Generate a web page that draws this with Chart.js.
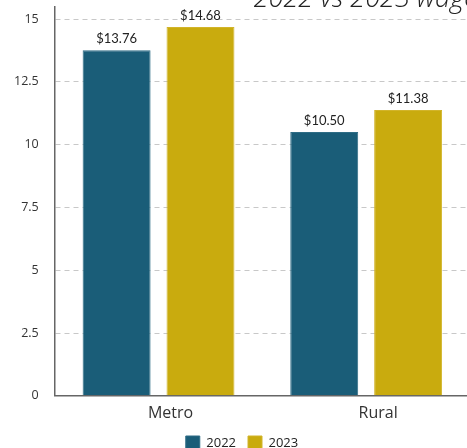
<!DOCTYPE html>
<html>
<head>
<meta charset="utf-8">
<script src="https://cdn.jsdelivr.net/npm/chart.js@4"></script>
<style>
  html, body { margin: 0; padding: 0; background: #fff; overflow: hidden; }
  #wrap { position: absolute; left: 0; top: -17px; width: 484px; height: 477px; }
</style>
</head>
<body>
<div id="wrap"><canvas id="c" width="484" height="477"></canvas></div>
<script>
// Average hourly wage by region, 2022 vs 2023
const regions = ['Metro', 'Rural'];
const years = ['2022', '2023'];
const wages2022 = [13.76, 10.50];
const wages2023 = [14.68, 11.38];
const yTickValues = [0, 2.5, 5, 7.5, 10, 12.5, 15];

const colors = { '2022': '#1a5d78', '2023': '#c9ab0e' };
const borders = { '2022': '#2f6d86', '2023': '#d2b42a' };

// Dollar value above each bar
const valueLabels = {
  id: 'valueLabels',
  afterDatasetsDraw(chart) {
    const ctx = chart.ctx;
    ctx.save();
    ctx.font = '13px Lato, "Open Sans", sans-serif';
    ctx.fillStyle = '#222';
    ctx.textAlign = 'center';
    ctx.textBaseline = 'alphabetic';
    chart.data.datasets.forEach((ds, i) => {
      chart.getDatasetMeta(i).data.forEach((bar, j) => {
        ctx.fillText('$' + ds.data[j].toFixed(2), bar.x, bar.y - 7);
      });
    });
    ctx.restore();
  }
};

// Chart heading
const heading = {
  id: 'heading',
  afterDraw(chart) {
    const ctx = chart.ctx;
    ctx.save();
    ctx.font = 'italic 300 27px "Open Sans", sans-serif';
    ctx.fillStyle = '#222';
    ctx.textAlign = 'left';
    ctx.textBaseline = 'alphabetic';
    ctx.fillText('2022 vs 2023 wages', chart.chartArea.left + 199, 24);
    ctx.restore();
  }
};

// Centre the legend on the whole canvas rather than the padded box
const legendShift = {
  id: 'legendShift',
  afterLayout(chart) {
    const lg = chart.legend;
    const shift = chart.width / 2 - (lg.left + lg.right) / 2;
    lg.left += shift;
    lg.right += shift;
  }
};

new Chart(document.getElementById('c'), {
  type: 'bar',
  data: {
    labels: regions,
    datasets: [
      { label: years[0], data: wages2022, backgroundColor: colors['2022'], borderColor: borders['2022'], borderWidth: 1 },
      { label: years[1], data: wages2023, backgroundColor: colors['2023'], borderColor: borders['2023'], borderWidth: 1 }
    ]
  },
  options: {
    responsive: false,
    animation: false,
    devicePixelRatio: 1,
    layout: { padding: { top: 0, left: -2, right: 14, bottom: 0 } },
    datasets: { bar: { categoryPercentage: 0.808, barPercentage: 0.81 } },
    scales: {
      x: {
        grid: { display: false, drawTicks: false },
        border: { display: true, color: '#666', width: 1.5 },
        ticks: { color: '#333', font: { family: '"Open Sans", sans-serif', size: 16 }, padding: 8, labelOffset: 12 },
        afterFit(scale) { scale.height -= 7; }
      },
      y: {
        min: 0,
        max: 15.5,
        afterBuildTicks(scale) {
          scale.ticks = yTickValues.map(v => ({ value: v }));
        },
        grid: { color: '#c8c8c8', drawTicks: false, lineWidth: 1 },
        border: { display: true, color: '#666', width: 1.5, dash: [5, 4] },
        ticks: { color: '#333', font: { family: '"Open Sans", sans-serif', size: 12.5 }, padding: 16 }
      }
    },
    plugins: {
      legend: {
        position: 'bottom',
        labels: { boxWidth: 14, boxHeight: 14, color: '#222', font: { family: '"Open Sans", sans-serif', size: 13 }, padding: 12 }
      },
      tooltip: { enabled: false }
    }
  },
  plugins: [valueLabels, heading, legendShift]
});
</script>
</body>
</html>
